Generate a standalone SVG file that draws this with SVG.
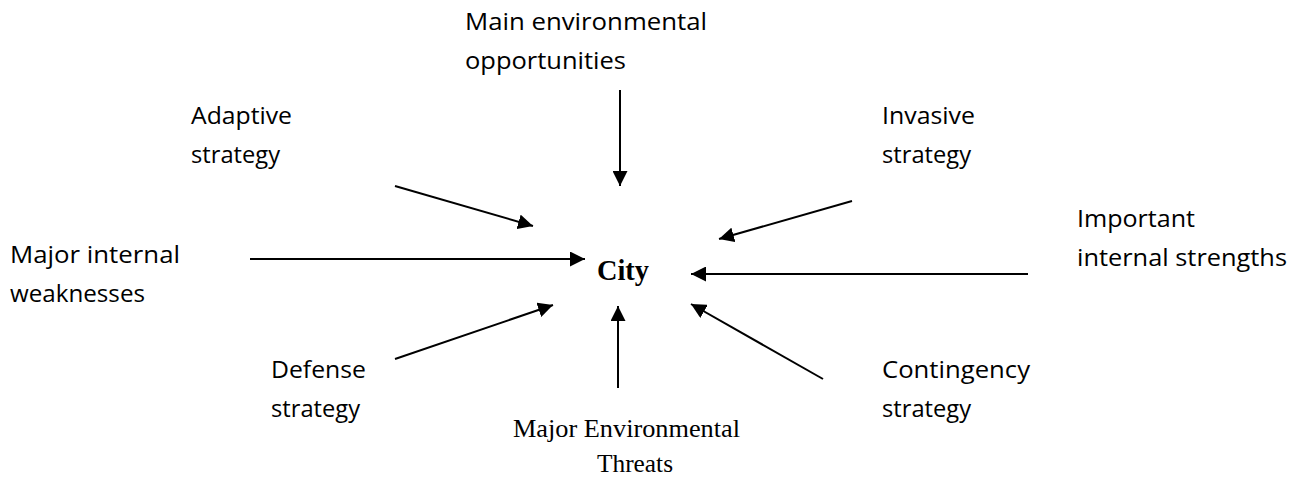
<svg xmlns="http://www.w3.org/2000/svg" width="1291" height="477" viewBox="0 0 1291 477">
  <style>
    .lbl { font-family: "Open Sans", "Liberation Sans", sans-serif; font-size: 24px; fill: #000; }
    .ser { font-family: "Liberation Serif", "Times New Roman", serif; font-size: 25px; fill: #000; }
    .city { font-family: "Liberation Serif", "Times New Roman", serif; font-size: 30px; font-weight: bold; fill: #000; }
    .arr { stroke: #000; stroke-width: 2; fill: none; marker-end: url(#head); }
  </style>
  <defs>
    <marker id="head" markerWidth="15" markerHeight="15" refX="15" refY="7.5" orient="auto" markerUnits="userSpaceOnUse">
      <path d="M0,0 L15,7.5 L0,15 Z" fill="#000"/>
    </marker>
  </defs>
  <rect width="1291" height="477" fill="#fff"/>

  <g id="connectors">
    <line class="arr" x1="620" y1="90" x2="620" y2="186"/>
    <line class="arr" x1="395" y1="186" x2="533" y2="226"/>
    <line class="arr" x1="250" y1="259" x2="585" y2="259"/>
    <line class="arr" x1="852" y1="201" x2="719" y2="239"/>
    <line class="arr" x1="1028" y1="274" x2="691" y2="274"/>
    <line class="arr" x1="395" y1="359" x2="553" y2="305"/>
    <line class="arr" x1="618" y1="388" x2="618" y2="306"/>
    <line class="arr" x1="823" y1="379" x2="691" y2="304"/>
  </g>

  <g id="city">
    <text class="city" x="597" y="280" textLength="52" lengthAdjust="spacingAndGlyphs">City</text>
  </g>
  <g id="opportunities">
    <text class="lbl" x="465" y="30" textLength="242" lengthAdjust="spacingAndGlyphs">Main environmental</text>
    <text class="lbl" x="465" y="69" textLength="161" lengthAdjust="spacingAndGlyphs">opportunities</text>
  </g>
  <g id="adaptive">
    <text class="lbl" x="191" y="124" textLength="101" lengthAdjust="spacingAndGlyphs">Adaptive</text>
    <text class="lbl" x="191" y="163" textLength="89" lengthAdjust="spacingAndGlyphs">strategy</text>
  </g>
  <g id="invasive">
    <text class="lbl" x="882" y="124" textLength="93" lengthAdjust="spacingAndGlyphs">Invasive</text>
    <text class="lbl" x="882" y="163" textLength="89" lengthAdjust="spacingAndGlyphs">strategy</text>
  </g>
  <g id="strengths">
    <text class="lbl" x="1077" y="227" textLength="118" lengthAdjust="spacingAndGlyphs">Important</text>
    <text class="lbl" x="1077" y="266" textLength="210" lengthAdjust="spacingAndGlyphs">internal strengths</text>
  </g>
  <g id="weaknesses">
    <text class="lbl" x="10" y="263" textLength="170" lengthAdjust="spacingAndGlyphs">Major internal</text>
    <text class="lbl" x="10" y="302" textLength="135" lengthAdjust="spacingAndGlyphs">weaknesses</text>
  </g>
  <g id="defense">
    <text class="lbl" x="271" y="378" textLength="95" lengthAdjust="spacingAndGlyphs">Defense</text>
    <text class="lbl" x="271" y="417" textLength="89" lengthAdjust="spacingAndGlyphs">strategy</text>
  </g>
  <g id="contingency">
    <text class="lbl" x="882" y="378" textLength="148" lengthAdjust="spacingAndGlyphs">Contingency</text>
    <text class="lbl" x="882" y="417" textLength="89" lengthAdjust="spacingAndGlyphs">strategy</text>
  </g>
  <g id="threats">
    <text class="ser" x="513" y="437" textLength="227" lengthAdjust="spacingAndGlyphs">Major Environmental</text>
    <text class="ser" x="597" y="472" textLength="76" lengthAdjust="spacingAndGlyphs">Threats</text>
  </g>
</svg>
